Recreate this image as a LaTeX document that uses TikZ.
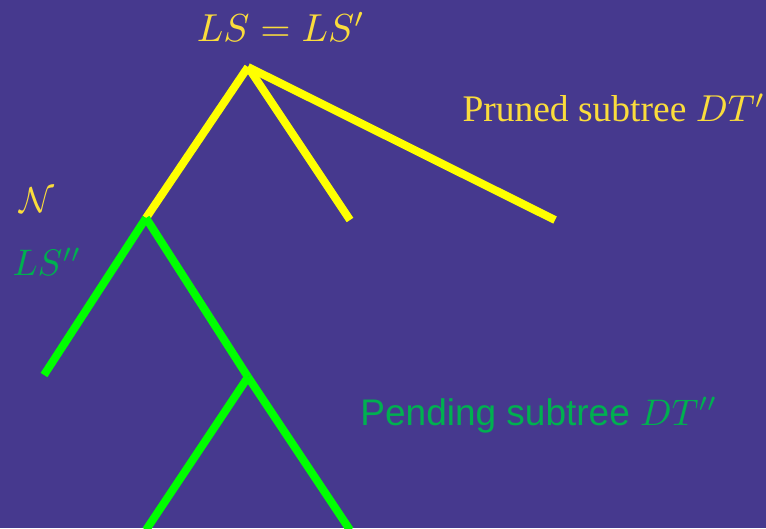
\documentclass[tikz,border=0pt]{standalone}
\usepackage{graphicx}
\usepackage{fontspec}
\newfontfamily\serifT{Liberation Serif}
\newfontfamily\sansA{Liberation Sans}
\definecolor{bgpurple}{RGB}{70,57,142}
\definecolor{lineyellow}{RGB}{255,255,0}
\definecolor{linegreen}{RGB}{0,255,0}
\definecolor{txtyellow}{RGB}{250,220,60}
\definecolor{txtgreen}{RGB}{0,176,80}
\begin{document}
\begin{tikzpicture}[x=1pt,y=-1pt,
  yl/.style={draw=lineyellow,line width=8pt},
  gl/.style={draw=linegreen,line width=8pt},
  ytxt/.style={text=txtyellow,inner sep=0pt},
  gtxt/.style={text=txtgreen,inner sep=0pt}]
\fill[bgpurple] (0,0) rectangle (766,528);
\useasboundingbox (0,0) rectangle (766,528);
\begin{scope}
\clip (0,0) rectangle (766,528);
\coordinate (r) at (248,67);
\coordinate (n) at (146,218);
\coordinate (y1) at (350,220);
\coordinate (y2) at (555,220);
\coordinate (g1) at (44,375);
\coordinate (m) at (248,377);
\coordinate (g2) at (146,530);
\coordinate (g3) at (350,530);
\draw[yl] (r) -- (n);
\draw[yl] (r) -- (y1);
\draw[yl] (r) -- (y2);
\draw[gl] (n) -- (g1);
\draw[gl] (n) -- (m);
\draw[gl] (m) -- (g2);
\draw[gl] (m) -- (g3);
\end{scope}
\node[ytxt] (top) at (281,27) {\scalebox{3.9}{$LS = LS'$}};
\node[ytxt] (pruned) at (614,108) {\scalebox{3.75}{\serifT Pruned subtree $DT'$}};
\node[ytxt] (N) at (37,200) {\scalebox{3.6}{$\mathcal{N}$}};
\node[gtxt] (ls2) at (47,262) {\scalebox{3.7}{$LS''$}};
\node[gtxt] (pending) at (539,415) {\scalebox{3.7}{\sansA Pending subtree $DT''$}};
\end{tikzpicture}
\end{document}
